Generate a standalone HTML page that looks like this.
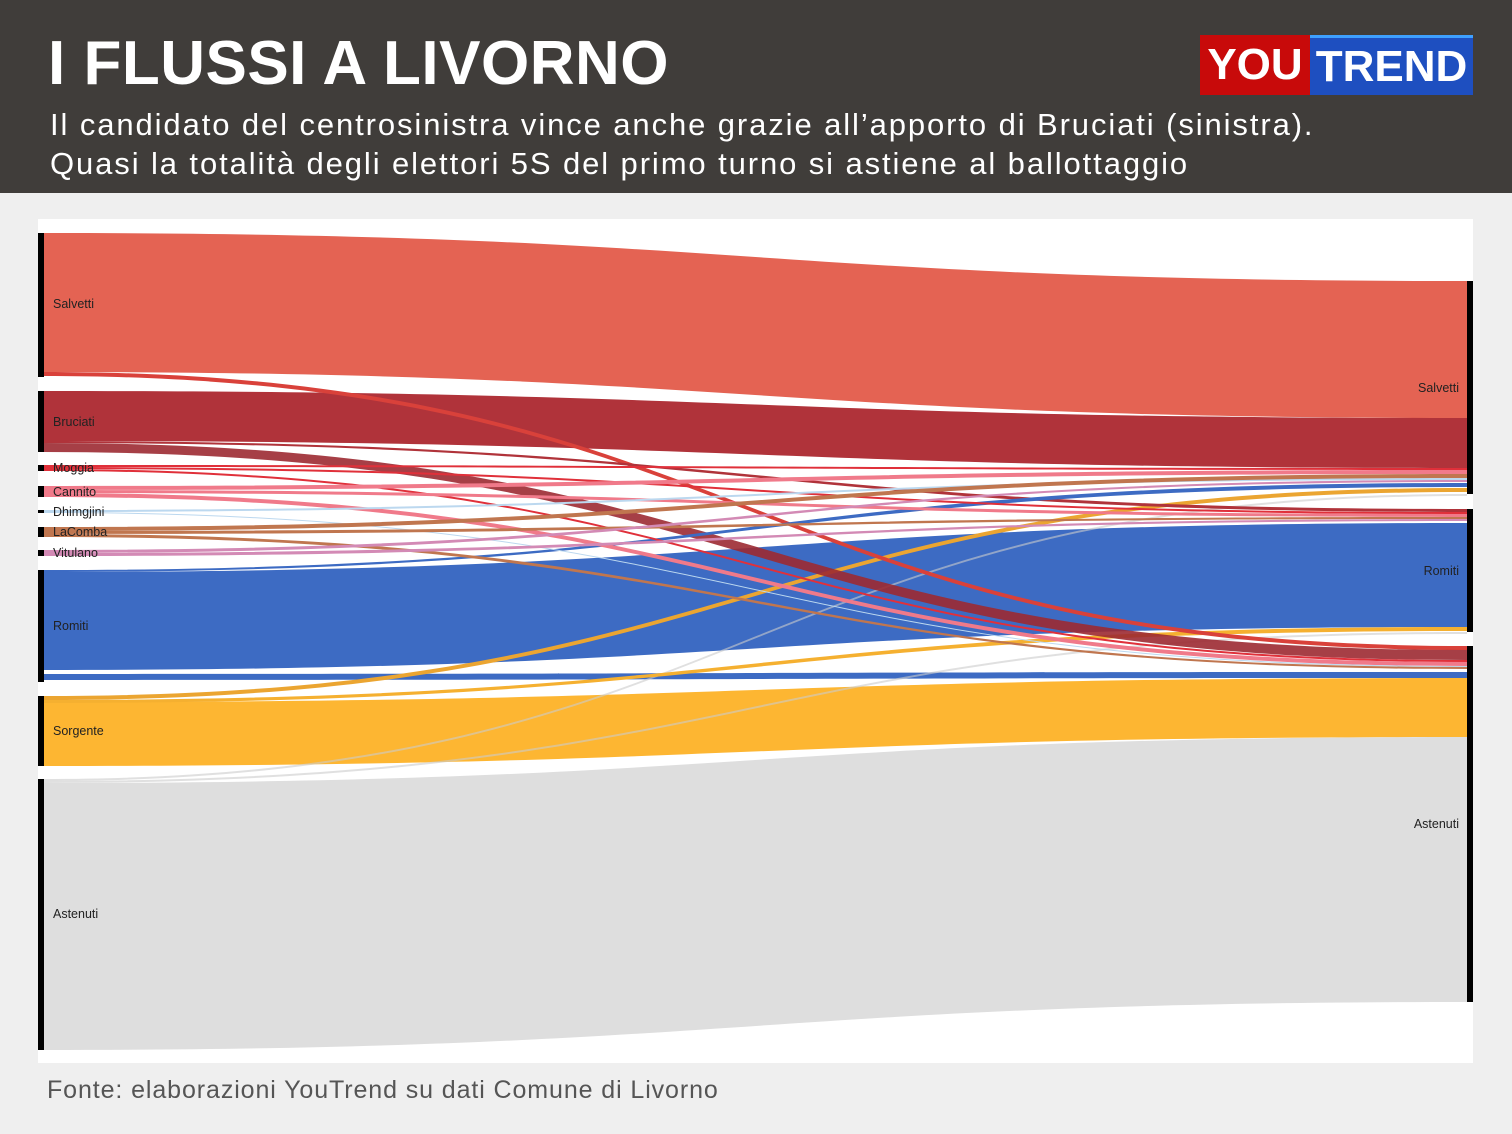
<!DOCTYPE html>
<html><head><meta charset="utf-8"><style>
body{margin:0;width:1512px;height:1134px;background:#efefef;font-family:"Liberation Sans",sans-serif;overflow:hidden;position:relative}
#hdr{position:absolute;left:0;top:0;width:1512px;height:193px;background:#403d3a}
#t{position:absolute;left:48px;top:28px;color:#fff;font-weight:bold;font-size:62px;letter-spacing:0.5px}
.s{position:absolute;left:50px;color:#fff;font-size:31px;letter-spacing:1.9px;white-space:nowrap}
#logo{position:absolute;left:1200px;top:35px;width:273px;height:60px;display:flex;font-weight:bold;font-size:44px;color:#fff}
#logo div{display:flex;align-items:center;justify-content:center}
#foot{position:absolute;left:47px;top:1076px;font-size:25px;color:#555;letter-spacing:0.9px}
svg{position:absolute;left:0;top:0}
</style></head><body>
<div id="hdr"></div>
<div id="t">I FLUSSI A LIVORNO</div>
<div class="s" style="top:107px">Il candidato del centrosinistra vince anche grazie all’apporto di Bruciati (sinistra).</div>
<div class="s" style="top:146px">Quasi la totalità degli elettori 5S del primo turno si astiene al ballottaggio</div>
<div id="logo"><div style="width:110px;background:#c80a0a">YOU</div><div style="width:163px;background:#1e4fc0;border-top:3px solid #3ea0ff">TREND</div></div>
<svg width="1512" height="1134" font-family="Liberation Sans, sans-serif" font-size="12">
<rect x="38" y="219" width="1435" height="844" fill="#fff"/>
<g>
<path d="M44 233C755 233 755 281 1467 281L1467 418C755 418 755 372 44 372Z" fill="#e46353"/>
<path d="M44 391C755 391 755 418 1467 418L1467 468C755 468 755 441 44 441Z" fill="#b0333a"/>
<path d="M44 783C755 783 755 737 1467 737L1467 1002C755 1002 755 1050 44 1050Z" fill="#dedede"/>
<path d="M44 702C755 702 755 678 1467 678L1467 737C755 737 755 766 44 766Z" fill="#fdb632"/>
<path d="M44 572C755 572 755 523 1467 523L1467 627C755 627 755 670 44 670Z" fill="#3d6bc3"/>
<path d="M44 674C755 674 755 672 1467 672L1467 678C755 678 755 680 44 680Z" fill="#3d6bc3"/>
<path d="M44 779C755 779 755 494 1467 494L1467 496C755 496 755 781 44 781Z" fill="#ccc" opacity=".6"/>
<path d="M44 781C755 781 755 632 1467 632L1467 634C755 634 755 783 44 783Z" fill="#ccc" opacity=".6"/>
<path d="M44 696C755 696 755 488 1467 488L1467 492C755 492 755 700 44 700Z" fill="#eba531"/>
<path d="M44 700C755 700 755 627 1467 627L1467 631C755 631 755 703 44 703Z" fill="#f5b030"/>
<path d="M44 372C755 372 755 646 1467 646L1467 650C755 650 755 376 44 376Z" fill="#d9413a"/>
<path d="M44 443C755 443 755 650 1467 650L1467 660C755 660 755 452 44 452Z" fill="#9c2a32" opacity=".9"/>
<path d="M44 441C755 441 755 509 1467 509L1467 512C755 512 755 443 44 443Z" fill="#b0333a"/>
<path d="M44 570C755 570 755 483 1467 483L1467 487C755 487 755 572 44 572Z" fill="#3d6bc3"/>
<path d="M44 465C755 465 755 468 1467 468L1467 470C755 470 755 467 44 467Z" fill="#e0303a"/>
<path d="M44 467C755 467 755 512 1467 512L1467 514C755 514 755 469 44 469Z" fill="#e0303a"/>
<path d="M44 469C755 469 755 660 1467 660L1467 662C755 662 755 471 44 471Z" fill="#e0303a"/>
<path d="M44 486C755 486 755 470 1467 470L1467 474C755 474 755 490 44 490Z" fill="#f07a8a"/>
<path d="M44 490C755 490 755 514 1467 514L1467 517C755 517 755 493 44 493Z" fill="#f07a8a"/>
<path d="M44 493C755 493 755 662 1467 662L1467 666C755 666 755 497 44 497Z" fill="#f07a8a"/>
<path d="M44 510C755 510 755 478 1467 478L1467 480C755 480 755 512 44 512Z" fill="#bcd8ef"/>
<path d="M44 512C755 512 755 666 1467 666L1467 667C755 667 755 513 44 513Z" fill="#bcd8ef"/>
<path d="M44 527C755 527 755 474 1467 474L1467 478C755 478 755 531 44 531Z" fill="#c0764f"/>
<path d="M44 531C755 531 755 517 1467 517L1467 519C755 519 755 534 44 534Z" fill="#c0764f"/>
<path d="M44 534C755 534 755 667 1467 667L1467 669C755 669 755 537 44 537Z" fill="#c0764f"/>
<path d="M44 550C755 550 755 480 1467 480L1467 482C755 482 755 553 44 553Z" fill="#d38ab5"/>
<path d="M44 553C755 553 755 519 1467 519L1467 521C755 521 755 556 44 556Z" fill="#d38ab5"/>
</g>
<g fill="#000">
<rect x="38" y="233" width="6" height="144"/><rect x="38" y="391" width="6" height="61"/>
<rect x="38" y="465" width="6" height="6"/><rect x="38" y="486" width="6" height="11"/>
<rect x="38" y="510" width="6" height="3"/><rect x="38" y="527" width="6" height="10"/>
<rect x="38" y="550" width="6" height="6"/><rect x="38" y="570" width="6" height="112"/>
<rect x="38" y="696" width="6" height="70"/><rect x="38" y="779" width="6" height="271"/>
<rect x="1467" y="281" width="6" height="213"/><rect x="1467" y="509" width="6" height="123"/>
<rect x="1467" y="646" width="6" height="356"/>
</g>
<g fill="#222" font-size="12.5">
<text x="53" y="308">Salvetti</text><text x="53" y="426">Bruciati</text>
<text x="53" y="472">Moggia</text><text x="53" y="496">Cannito</text>
<text x="53" y="516">Dhimgjini</text><text x="53" y="536">LaComba</text>
<text x="53" y="557">Vitulano</text><text x="53" y="630">Romiti</text>
<text x="53" y="735">Sorgente</text><text x="53" y="918">Astenuti</text>
<text x="1459" y="392" text-anchor="end">Salvetti</text>
<text x="1459" y="575" text-anchor="end">Romiti</text>
<text x="1459" y="828" text-anchor="end">Astenuti</text>
</g>
</svg>
<div id="foot">Fonte: elaborazioni YouTrend su dati Comune di Livorno</div>
</body></html>
